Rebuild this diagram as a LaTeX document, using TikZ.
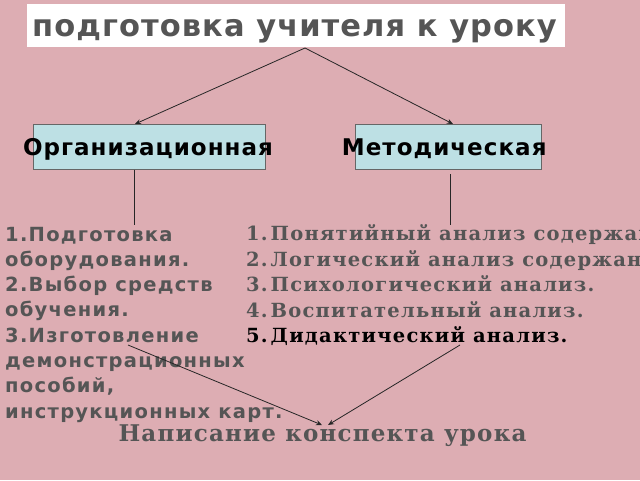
\documentclass[tikz,border=0pt]{standalone}
\usepackage{fontspec}
\setmainfont{DejaVu Serif}
\setsansfont{DejaVu Sans}
\usetikzlibrary{arrows.meta}
\definecolor{bg}{RGB}{221,173,179}
\definecolor{txtgray}{RGB}{85,85,85}
\definecolor{boxcyan}{RGB}{189,224,228}
\begin{document}
\begin{tikzpicture}[x=1pt,y=-1pt,
  conn/.style={draw=black!85, line width=0.8pt},
  arr/.style={conn, -{Stealth[length=6pt,width=5pt]}},
  catbox/.style={draw=black!60, fill=boxcyan, inner sep=0pt, minimum height=45.3pt,
    font=\sffamily\bfseries\fontsize{23}{23}\selectfont\addfontfeature{LetterSpace=4.5}, text=black},
  listtext/.style={anchor=base west, inner sep=0pt, text=txtgray}
]
\useasboundingbox (0,0) rectangle (640,480);
\fill[bg] (0,0) rectangle (640,480);
\begin{scope}
\clip (0,0) rectangle (640,480);
\node[fill=white, minimum width=538pt, minimum height=43pt, inner sep=0pt] (title) at (296,25.5) {};
\node[anchor=base, inner sep=0pt, text=txtgray,
  font=\sffamily\bfseries\fontsize{30.5}{30.5}\selectfont\addfontfeature{LetterSpace=3.5}] (titletext) at (294.5,36) {подготовка учителя к уроку};
\node[catbox, minimum width=232.3pt] (org) at (149,146.7) {};
\node[catbox, anchor=base, draw=none, fill=none, minimum height=0pt] (orgtext) at (148,155) {Организационная};
\node[catbox, minimum width=186.7pt] (met) at (448.3,146.7) {};
\node[catbox, anchor=base, draw=none, fill=none, minimum height=0pt] (mettext) at (444.2,155) {Методическая};

\node[listtext, font=\sffamily\bfseries\fontsize{19.5}{25.3}\selectfont\addfontfeature{LetterSpace=6.5}] (orglist) at (5,241) {\vtop{\baselineskip=25.3pt\lineskiplimit=-20pt
\hbox{1.Подготовка}\hbox{оборудования.}\hbox{2.Выбор средств}\hbox{обучения.}\hbox{3.Изготовление}\hbox{демонстрационных}\hbox{пособий,}\hbox{инструкционных карт.}}};
\node[listtext, font=\rmfamily\bfseries\fontsize{19.5}{25.5}\selectfont\addfontfeature{LetterSpace=6.3}] (metlist) at (246,240.7) {\vtop{\baselineskip=25.5pt\lineskiplimit=-20pt
\hbox{\makebox[24.5pt][l]{1.}Понятийный анализ содержания.}
\hbox{\makebox[24.5pt][l]{2.}Логический анализ содержания.}
\hbox{\makebox[24.5pt][l]{3.}Психологический анализ.}
\hbox{\makebox[24.5pt][l]{4.}Воспитательный анализ.}
\hbox{\color{black}\makebox[24.5pt][l]{5.}Дидактический анализ.}}};
\node[anchor=base, text=txtgray, inner sep=0pt, font=\rmfamily\bfseries\fontsize{23}{23}\selectfont\addfontfeature{LetterSpace=5.2}] (konspekt) at (322.5,441) {Написание конспекта урока};

\coordinate (apex) at (305,48);
\coordinate (orgtop) at (135,124);
\coordinate (mettop) at (453,124);
\coordinate (orgdown) at (134,225);
\coordinate (metdown) at (450.7,225);
\coordinate (orgfrom) at (128,345);
\coordinate (metfrom) at (460,345);
\coordinate (konL) at (322,425);
\coordinate (konR) at (328,425);

\draw[arr] (apex) -- (orgtop);
\draw[arr] (apex) -- (mettop);
\draw[conn] (org.south -| orgdown) -- (orgdown);
\draw[conn] ([yshift=-4.7pt]met.south -| metdown) -- (metdown);
\draw[arr] (orgfrom) -- (konL);
\draw[arr] (metfrom) -- (konR);
\end{scope}
\end{tikzpicture}
\end{document}
